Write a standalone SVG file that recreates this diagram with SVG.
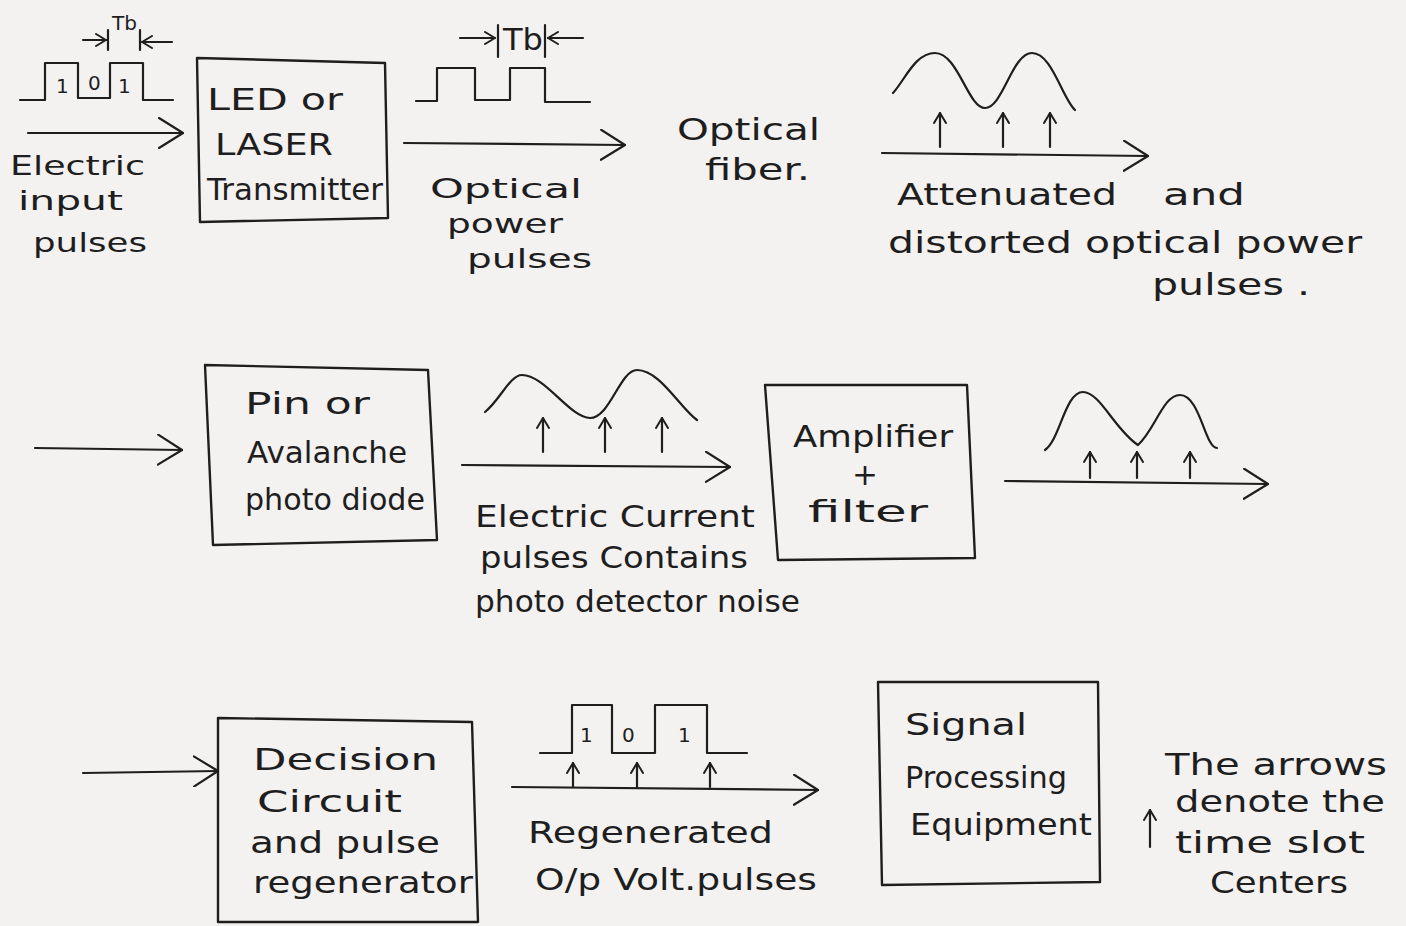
<svg xmlns="http://www.w3.org/2000/svg" width="1406" height="926" viewBox="0 0 1406 926">
<defs>
<style>
.ln{fill:none;stroke:#1e1e1e;stroke-width:2.2;stroke-linecap:round;stroke-linejoin:round}
.bx{fill:none;stroke:#1e1e1e;stroke-width:2.4;stroke-linejoin:round}
.t{font-family:"DejaVu Sans","Liberation Sans",Arial,sans-serif;font-size:31px;fill:#1e1e1e}
.m{font-family:"DejaVu Sans","Liberation Sans",Arial,sans-serif;font-size:27px;fill:#1e1e1e}
.s{font-family:"DejaVu Sans","Liberation Sans",Arial,sans-serif;font-size:20px;fill:#1e1e1e}
</style>
<marker id="big" viewBox="0 0 26 32" refX="25" refY="16" markerWidth="26" markerHeight="32" markerUnits="userSpaceOnUse" orient="auto">
<path d="M1,1 L25,16 L1,31" fill="none" stroke="#1e1e1e" stroke-width="2.2" stroke-linecap="round" stroke-linejoin="round"/>
</marker>
<marker id="sm" viewBox="0 0 12 14" refX="11" refY="7" markerWidth="12" markerHeight="14" markerUnits="userSpaceOnUse" orient="auto">
<path d="M1,1 L11,7 L1,13" fill="none" stroke="#1e1e1e" stroke-width="2" stroke-linecap="round" stroke-linejoin="round"/>
</marker>
</defs>
<rect width="1406" height="926" fill="#f4f1f1"/>

<g id="input-signal">
<path class="ln" d="M20,100 L45,100 L45,63 L78,63 L78,98 L110,98 L110,63 L143,63 L143,100 L173,100"/>
<text class="s" x="56" y="93">1</text>
<text class="s" x="88" y="90">0</text>
<text class="s" x="118" y="93">1</text>
<line class="ln" x1="83" y1="40" x2="106" y2="40" marker-end="url(#sm)"/>
<line class="ln" x1="108" y1="30" x2="108" y2="50"/>
<text class="s" x="112" y="30">Tb</text>
<line class="ln" x1="140" y1="30" x2="140" y2="50"/>
<line class="ln" x1="172" y1="42" x2="142" y2="42" marker-end="url(#sm)"/>
<text class="m" x="10" y="175" textLength="135" lengthAdjust="spacingAndGlyphs">Electric</text>
<text class="m" x="18" y="210" textLength="105" lengthAdjust="spacingAndGlyphs">input</text>
<text class="m" x="33" y="252" textLength="114" lengthAdjust="spacingAndGlyphs">pulses</text>
</g>

<g id="transmitter">
<path class="bx" d="M197,58 L385,63 L388,218 L200,222 Z"/>
<text class="t" x="207" y="110" textLength="136" lengthAdjust="spacingAndGlyphs">LED or</text>
<text class="t" x="215" y="155" textLength="118" lengthAdjust="spacingAndGlyphs">LASER</text>
<text class="t" x="207" y="200" textLength="176" lengthAdjust="spacingAndGlyphs">Transmitter</text>
</g>

<g id="optical-power-pulses">
<path class="ln" d="M416,101 L437,101 L437,68 L475,68 L475,100 L510,100 L510,68 L545,68 L545,102 L590,102"/>
<line class="ln" x1="460" y1="38" x2="495" y2="38" marker-end="url(#sm)"/>
<line class="ln" x1="498" y1="25" x2="498" y2="57"/>
<text class="t" x="503" y="50" textLength="40" lengthAdjust="spacingAndGlyphs">Tb</text>
<line class="ln" x1="545" y1="25" x2="545" y2="57"/>
<line class="ln" x1="583" y1="38" x2="548" y2="38" marker-end="url(#sm)"/>
<text class="m" x="430" y="198" textLength="152" lengthAdjust="spacingAndGlyphs">Optical</text>
<text class="m" x="447" y="233" textLength="116" lengthAdjust="spacingAndGlyphs">power</text>
<text class="m" x="467" y="268" textLength="125" lengthAdjust="spacingAndGlyphs">pulses</text>
</g>

<g id="optical-fiber">
<text class="t" x="677" y="140" textLength="143" lengthAdjust="spacingAndGlyphs">Optical</text>
<text class="t" x="705" y="180" textLength="105" lengthAdjust="spacingAndGlyphs">fiber.</text>
</g>

<g id="attenuated-pulses">
<path class="ln" d="M893,93 C905,80 915,53 935,53 C958,53 968,108 985,108 C1003,108 1012,53 1032,53 C1052,53 1062,98 1075,110"/>
<line class="ln" x1="940" y1="147" x2="940" y2="113" marker-end="url(#sm)"/>
<line class="ln" x1="1003" y1="147" x2="1003" y2="113" marker-end="url(#sm)"/>
<line class="ln" x1="1050" y1="147" x2="1050" y2="113" marker-end="url(#sm)"/>
<text class="t" x="897" y="205" textLength="220" lengthAdjust="spacingAndGlyphs">Attenuated</text>
<text class="t" x="1163" y="205" textLength="82" lengthAdjust="spacingAndGlyphs">and</text>
<text class="t" x="888" y="253" textLength="474" lengthAdjust="spacingAndGlyphs">distorted optical power</text>
<text class="t" x="1152" y="295" textLength="158" lengthAdjust="spacingAndGlyphs">pulses .</text>
</g>

<g id="photodiode">
<path class="bx" d="M205,365 L428,370 L437,540 L213,545 Z"/>
<text class="t" x="245" y="414" textLength="125" lengthAdjust="spacingAndGlyphs">Pin or</text>
<text class="t" x="247" y="463" textLength="160" lengthAdjust="spacingAndGlyphs">Avalanche</text>
<text class="t" x="245" y="510" textLength="180" lengthAdjust="spacingAndGlyphs">photo diode</text>
</g>

<g id="current-pulses">
<path class="ln" d="M485,412 C500,400 510,375 522,375 C545,375 570,418 590,418 C610,418 620,370 637,370 C660,370 680,408 697,420"/>
<line class="ln" x1="543" y1="452" x2="543" y2="418" marker-end="url(#sm)"/>
<line class="ln" x1="605" y1="452" x2="605" y2="418" marker-end="url(#sm)"/>
<line class="ln" x1="662" y1="452" x2="662" y2="418" marker-end="url(#sm)"/>
<text class="t" x="475" y="527" textLength="280" lengthAdjust="spacingAndGlyphs">Electric Current</text>
<text class="t" x="480" y="568" textLength="268" lengthAdjust="spacingAndGlyphs">pulses Contains</text>
<text class="t" x="475" y="612" textLength="325" lengthAdjust="spacingAndGlyphs">photo detector noise</text>
</g>

<g id="amplifier">
<path class="bx" d="M765,385 L967,385 L975,558 L778,560 Z"/>
<text class="t" x="793" y="447" textLength="160" lengthAdjust="spacingAndGlyphs">Amplifier</text>
<text class="t" x="852" y="485">+</text>
<text class="t" x="808" y="522" textLength="120" lengthAdjust="spacingAndGlyphs">filter</text>
</g>

<g id="amplified-pulses">
<path class="ln" d="M1045,450 C1060,440 1065,392 1083,392 C1100,392 1115,430 1138,445 C1155,430 1163,395 1180,395 C1200,395 1205,448 1217,448"/>
<line class="ln" x1="1090" y1="478" x2="1090" y2="452" marker-end="url(#sm)"/>
<line class="ln" x1="1137" y1="478" x2="1137" y2="452" marker-end="url(#sm)"/>
<line class="ln" x1="1190" y1="478" x2="1190" y2="452" marker-end="url(#sm)"/>
</g>

<g id="decision-circuit">
<path class="bx" d="M218,718 L472,722 L478,922 L218,922 Z"/>
<text class="t" x="253" y="770" textLength="185" lengthAdjust="spacingAndGlyphs">Decision</text>
<text class="t" x="257" y="812" textLength="145" lengthAdjust="spacingAndGlyphs">Circuit</text>
<text class="t" x="250" y="853" textLength="190" lengthAdjust="spacingAndGlyphs">and pulse</text>
<text class="t" x="253" y="893" textLength="220" lengthAdjust="spacingAndGlyphs">regenerator</text>
</g>

<g id="regenerated-pulses">
<path class="ln" d="M540,753 L572,753 L572,705 L612,705 L612,753 L655,753 L655,705 L707,705 L707,753 L747,753"/>
<text class="s" x="580" y="742">1</text>
<text class="s" x="622" y="742">0</text>
<text class="s" x="678" y="742">1</text>
<line class="ln" x1="573" y1="787" x2="573" y2="763" marker-end="url(#sm)"/>
<line class="ln" x1="637" y1="787" x2="637" y2="763" marker-end="url(#sm)"/>
<line class="ln" x1="710" y1="787" x2="710" y2="763" marker-end="url(#sm)"/>
<text class="t" x="528" y="843" textLength="245" lengthAdjust="spacingAndGlyphs">Regenerated</text>
<text class="t" x="535" y="890" textLength="282" lengthAdjust="spacingAndGlyphs">O/p Volt.pulses</text>
</g>

<g id="signal-processing">
<path class="bx" d="M878,682 L1098,682 L1100,882 L882,885 Z"/>
<text class="t" x="905" y="735" textLength="122" lengthAdjust="spacingAndGlyphs">Signal</text>
<text class="t" x="905" y="788" textLength="162" lengthAdjust="spacingAndGlyphs">Processing</text>
<text class="t" x="910" y="835" textLength="182" lengthAdjust="spacingAndGlyphs">Equipment</text>
</g>

<g id="legend">
<line class="ln" x1="1150" y1="847" x2="1150" y2="810" marker-end="url(#sm)"/>
<text class="t" x="1165" y="775" textLength="222" lengthAdjust="spacingAndGlyphs">The arrows</text>
<text class="t" x="1175" y="812" textLength="210" lengthAdjust="spacingAndGlyphs">denote the</text>
<text class="t" x="1175" y="853" textLength="190" lengthAdjust="spacingAndGlyphs">time slot</text>
<text class="t" x="1210" y="893" textLength="138" lengthAdjust="spacingAndGlyphs">Centers</text>
</g>

<g id="connectors">
<line class="ln" x1="28" y1="133" x2="183" y2="133" marker-end="url(#big)"/>
<line class="ln" x1="404" y1="143" x2="625" y2="145" marker-end="url(#big)"/>
<line class="ln" x1="882" y1="153" x2="1148" y2="156" marker-end="url(#big)"/>
<line class="ln" x1="35" y1="448" x2="182" y2="450" marker-end="url(#big)"/>
<line class="ln" x1="462" y1="465" x2="730" y2="467" marker-end="url(#big)"/>
<line class="ln" x1="1005" y1="481" x2="1268" y2="484" marker-end="url(#big)"/>
<line class="ln" x1="83" y1="773" x2="218" y2="771" marker-end="url(#big)"/>
<line class="ln" x1="512" y1="787" x2="818" y2="790" marker-end="url(#big)"/>
</g>
</svg>
